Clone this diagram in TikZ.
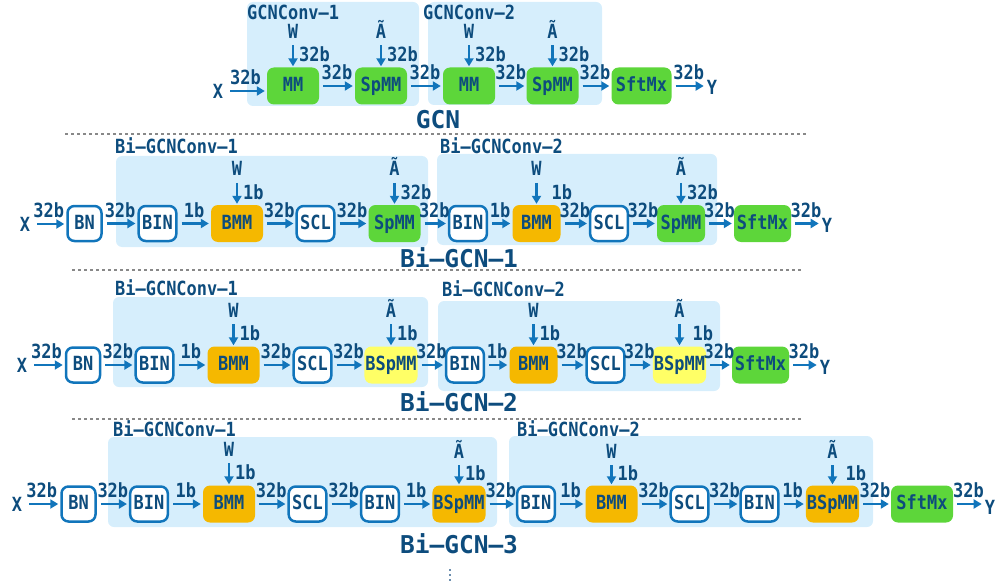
\documentclass[tikz,border=0pt]{standalone}
\usepackage{fontspec}
\newfontfamily\dvm{DejaVu Sans Mono}[FakeStretch=0.87]
\newfontfamily\dvt{DejaVu Sans Mono}
\usetikzlibrary{arrows.meta,positioning}
\definecolor{txt}{HTML}{0D4C7D}
\definecolor{ar}{HTML}{1175BB}
\definecolor{bgc}{HTML}{D6EEFC}
\definecolor{gr}{HTML}{5DD63A}
\definecolor{og}{HTML}{F5B800}
\definecolor{yl}{HTML}{FFFF66}
\definecolor{sepc}{HTML}{888888}
\definecolor{dotc}{HTML}{6C8EAE}
\tikzset{
 lbl/.style={font=\dvm\bfseries\fontsize{19.5}{21}\selectfont, text=txt, inner sep=0pt},
 ttl/.style={font=\dvt\bfseries\fontsize{24.5}{28}\selectfont, text=txt, inner sep=0pt},
 op/.style={lbl, rounded corners=7pt, minimum height=37pt, minimum width=52pt, inner xsep=1pt, text height=14pt, text depth=3pt},
 gop/.style={op, fill=gr},
 oop/.style={op, fill=og},
 yop/.style={op, fill=yl},
 wop/.style={op, fill=white, draw=ar, line width=2.5pt, minimum width=34pt, minimum height=35pt, inner xsep=3.5pt},
 term/.style={lbl, inner sep=1pt},
 arr/.style={draw=ar, line width=2.2pt, -{Triangle[length=8pt,width=9pt]}, shorten <=4pt, shorten >=2pt},
 varr/.style={draw=ar, line width=2.2pt, -{Triangle[length=8pt,width=9pt]}, shorten <=7pt, shorten >=1pt},
 bl/.style={lbl, above=5pt},
 vl/.style={lbl, right=5pt, pos=0.55},
 bgbox/.style={fill=bgc, rounded corners=6pt},
 sepline/.style={draw=sepc, line width=1.3pt, dash pattern=on 3pt off 3pt},
 inp/.style={lbl, above=29pt of #1},
 inpc/.style={lbl, above=27pt of #1},
}
\begin{document}
\begin{tikzpicture}[x=1pt,y=-1pt]
\useasboundingbox (0,0) rectangle (1000,588);
% ---------- backgrounds ----------
\fill[bgbox] (247,2) rectangle (419,106);
\fill[bgbox] (428,2) rectangle (602,105);
\fill[bgbox] (116,156) rectangle (428,247);
\fill[bgbox] (437,154) rectangle (717,245);
\fill[bgbox] (113,297) rectangle (428,387);
\fill[bgbox] (438,301) rectangle (720,391);
\fill[bgbox] (108,437) rectangle (497,527);
\fill[bgbox] (509,436) rectangle (873,527);
% separators
\draw[sepline] (65,134) -- (807,134);
\draw[sepline] (72,270) -- (801,270);
\draw[sepline] (72,419) -- (801,419);
\fill[dotc] (449,569) rectangle (451,571);
\fill[dotc] (449,574) rectangle (451,576);
\fill[dotc] (449,579) rectangle (451,581);
% ---------- GCN ----------
\node[lbl, anchor=west] (c01) at (247,12) {GCNConv–1};
\node[lbl, anchor=west] (c02) at (423,12) {GCNConv–2};
\node[term] (X0) at (218,91) {X};
\node[gop] (a1) at (293,86) {MM};
\node[gop] (a2) at (381,86) {SpMM};
\node[gop] (a3) at (469,86) {MM};
\node[gop] (a4) at (552.5,86) {SpMM};
\node[gop, minimum width=60pt] (a5) at (641.5,86) {SftMx};
\node[term] (Y0) at (712,87) {Y};
\node[inp=a1] (w01) {W};
\node[inp=a2] (t01) {Ã};
\node[inp=a3] (w02) {W};
\node[inp=a4] (t02) {Ã};
\draw[arr, shorten <=6pt] (X0.east) -- node[bl]{32b} (X0.east -| a1.west);
\draw[arr] (a1) -- node[bl]{32b} (a2);
\draw[arr] (a2) -- node[bl]{32b} (a3);
\draw[arr] (a3) -- node[bl]{32b} (a4);
\draw[arr] (a4) -- node[bl]{32b} (a5);
\draw[arr] (a5.east) -- node[bl]{32b} (a5.east -| Y0.west);
\draw[varr] (w01) -- node[vl]{32b} (a1);
\draw[varr] (t01) -- node[vl]{32b} (a2);
\draw[varr] (w02) -- node[vl]{32b} (a3);
\draw[varr] (t02) -- node[vl]{32b} (a4);
\node[ttl] (T0) at (438,120) {GCN};
% ---------- Bi-GCN-1 ----------
\node[lbl, anchor=west] (c11) at (115,146) {Bi–GCNConv–1};
\node[lbl, anchor=west] (c12) at (440,146) {Bi–GCNConv–2};
\node[term] (X1) at (25,224) {X};
\node[wop] (b1) at (84.5,223.5) {BN};
\node[wop] (b2) at (157.5,223.5) {BIN};
\node[oop] (b3) at (237,223.5) {BMM};
\node[wop] (b4) at (315.5,223.5) {SCL};
\node[gop] (b5) at (394.5,223.5) {SpMM};
\node[wop] (b6) at (468,223.5) {BIN};
\node[oop, minimum width=48pt] (b7) at (536.5,223.5) {BMM};
\node[wop] (b8) at (609,223.5) {SCL};
\node[gop, minimum width=48pt] (b9) at (681,223.5) {SpMM};
\node[gop, minimum width=57pt] (b10) at (762.5,223.5) {SftMx};
\node[term] (Y1) at (827,225) {Y};
\node[inp=b3] (w11) {W};
\node[inp=b5] (t11) {Ã};
\node[inp=b7] (w12) {W};
\node[inp=b9] (t12) {Ã};
\draw[arr, shorten <=6pt] (X1.east) -- node[bl]{32b} (X1.east -| b1.west);
\draw[arr] (b1) -- node[bl]{32b} (b2);
\draw[arr] (b2) -- node[bl]{1b} (b3);
\draw[arr] (b3) -- node[bl]{32b} (b4);
\draw[arr] (b4) -- node[bl]{32b} (b5);
\draw[arr] (b5) -- node[bl]{32b} (b6);
\draw[arr] (b6) -- node[bl]{1b} (b7);
\draw[arr] (b7) -- node[bl]{32b} (b8);
\draw[arr] (b8) -- node[bl]{32b} (b9);
\draw[arr] (b9) -- node[bl]{32b} (b10);
\draw[arr] (b10.east) -- node[bl]{32b} (b10.east -| Y1.west);
\draw[varr] (w11) -- node[vl]{1b} (b3);
\draw[varr] (t11) -- node[vl]{32b} (b5);
\draw[varr] (w12) -- node[vl, right=14pt]{1b} (b7);
\draw[varr] (t12) -- node[vl]{32b} (b9);
\node[ttl] (T1) at (459,258) {Bi–GCN–1};
% ---------- Bi-GCN-2 ----------
\node[lbl, anchor=west] (c21) at (115,288) {Bi–GCNConv–1};
\node[lbl, anchor=west] (c22) at (442,289) {Bi–GCNConv–2};
\node[term] (X2) at (22,365) {X};
\node[wop] (d1) at (83,365) {BN};
\node[wop] (d2) at (154.5,365) {BIN};
\node[oop] (d3) at (233.5,365) {BMM};
\node[wop] (d4) at (312.5,365) {SCL};
\node[yop] (d5) at (391,365) {BSpMM};
\node[wop] (d6) at (465,365) {BIN};
\node[oop, minimum width=48pt] (d7) at (533.5,365) {BMM};
\node[wop] (d8) at (605.5,365) {SCL};
\node[yop, minimum width=48pt] (d9) at (679.5,365) {BSpMM};
\node[gop, minimum width=57pt] (d10) at (760.5,365) {SftMx};
\node[term] (Y2) at (825,367) {Y};
\node[inp=d3] (w21) {W};
\node[inp=d5] (t21) {Ã};
\node[inp=d7] (w22) {W};
\node[inp=d9] (t22) {Ã};
\draw[arr, shorten <=6pt] (X2.east) -- node[bl]{32b} (X2.east -| d1.west);
\draw[arr] (d1) -- node[bl]{32b} (d2);
\draw[arr] (d2) -- node[bl]{1b} (d3);
\draw[arr] (d3) -- node[bl]{32b} (d4);
\draw[arr] (d4) -- node[bl]{32b} (d5);
\draw[arr] (d5) -- node[bl]{32b} (d6);
\draw[arr] (d6) -- node[bl]{1b} (d7);
\draw[arr] (d7) -- node[bl]{32b} (d8);
\draw[arr] (d8) -- node[bl]{32b} (d9);
\draw[arr] (d9) -- node[bl]{32b} (d10);
\draw[arr] (d10.east) -- node[bl]{32b} (d10.east -| Y2.west);
\draw[varr] (w21) -- node[vl]{1b} (d3);
\draw[varr] (t21) -- node[vl]{1b} (d5);
\draw[varr] (w22) -- node[vl]{1b} (d7);
\draw[varr] (t22) -- node[vl, right=12pt]{1b} (d9);
\node[ttl] (T2) at (459,402) {Bi–GCN–2};
% ---------- Bi-GCN-3 ----------
\node[lbl, anchor=west] (c31) at (113,429) {Bi–GCNConv–1};
\node[lbl, anchor=west] (c32) at (517,429) {Bi–GCNConv–2};
\node[term] (X3) at (17,504) {X};
\node[wop] (e1) at (78.5,504) {BN};
\node[wop] (e2) at (149,504) {BIN};
\node[oop] (e3) at (229,504) {BMM};
\node[wop] (e4) at (307.5,504) {SCL};
\node[wop] (e5) at (380,504) {BIN};
\node[oop] (e6) at (459,504) {BSpMM};
\node[wop] (e7) at (536,504) {BIN};
\node[oop] (e8) at (611.5,504) {BMM};
\node[wop] (e9) at (689.5,504) {SCL};
\node[wop] (e10) at (759.5,504) {BIN};
\node[oop] (e11) at (832.5,504) {BSpMM};
\node[gop, minimum width=62pt] (e12) at (922,504) {SftMx};
\node[term] (Y3) at (990,507) {Y};
\node[inp=e3] (w31) {W};
\node[inpc=e6] (t31) {Ã};
\node[inpc=e8] (w32) {W};
\node[inpc=e11] (t32) {Ã};
\draw[arr, shorten <=6pt] (X3.east) -- node[bl]{32b} (X3.east -| e1.west);
\draw[arr] (e1) -- node[bl]{32b} (e2);
\draw[arr] (e2) -- node[bl]{1b} (e3);
\draw[arr] (e3) -- node[bl]{32b} (e4);
\draw[arr] (e4) -- node[bl]{32b} (e5);
\draw[arr] (e5) -- node[bl]{1b} (e6);
\draw[arr] (e6) -- node[bl]{32b} (e7);
\draw[arr] (e7) -- node[bl]{1b} (e8);
\draw[arr] (e8) -- node[bl]{32b} (e9);
\draw[arr] (e9) -- node[bl]{32b} (e10);
\draw[arr] (e10) -- node[bl]{1b} (e11);
\draw[arr] (e11) -- node[bl]{32b} (e12);
\draw[arr] (e12.east) -- node[bl]{32b} (e12.east -| Y3.west);
\draw[varr] (w31) -- node[vl]{1b} (e3);
\draw[varr] (t31) -- node[vl]{1b} (e6);
\draw[varr] (w32) -- node[vl]{1b} (e8);
\draw[varr] (t32) -- node[vl, right=12pt]{1b} (e11);
\node[ttl] (T3) at (459,544) {Bi–GCN–3};
\end{tikzpicture}
\end{document}
